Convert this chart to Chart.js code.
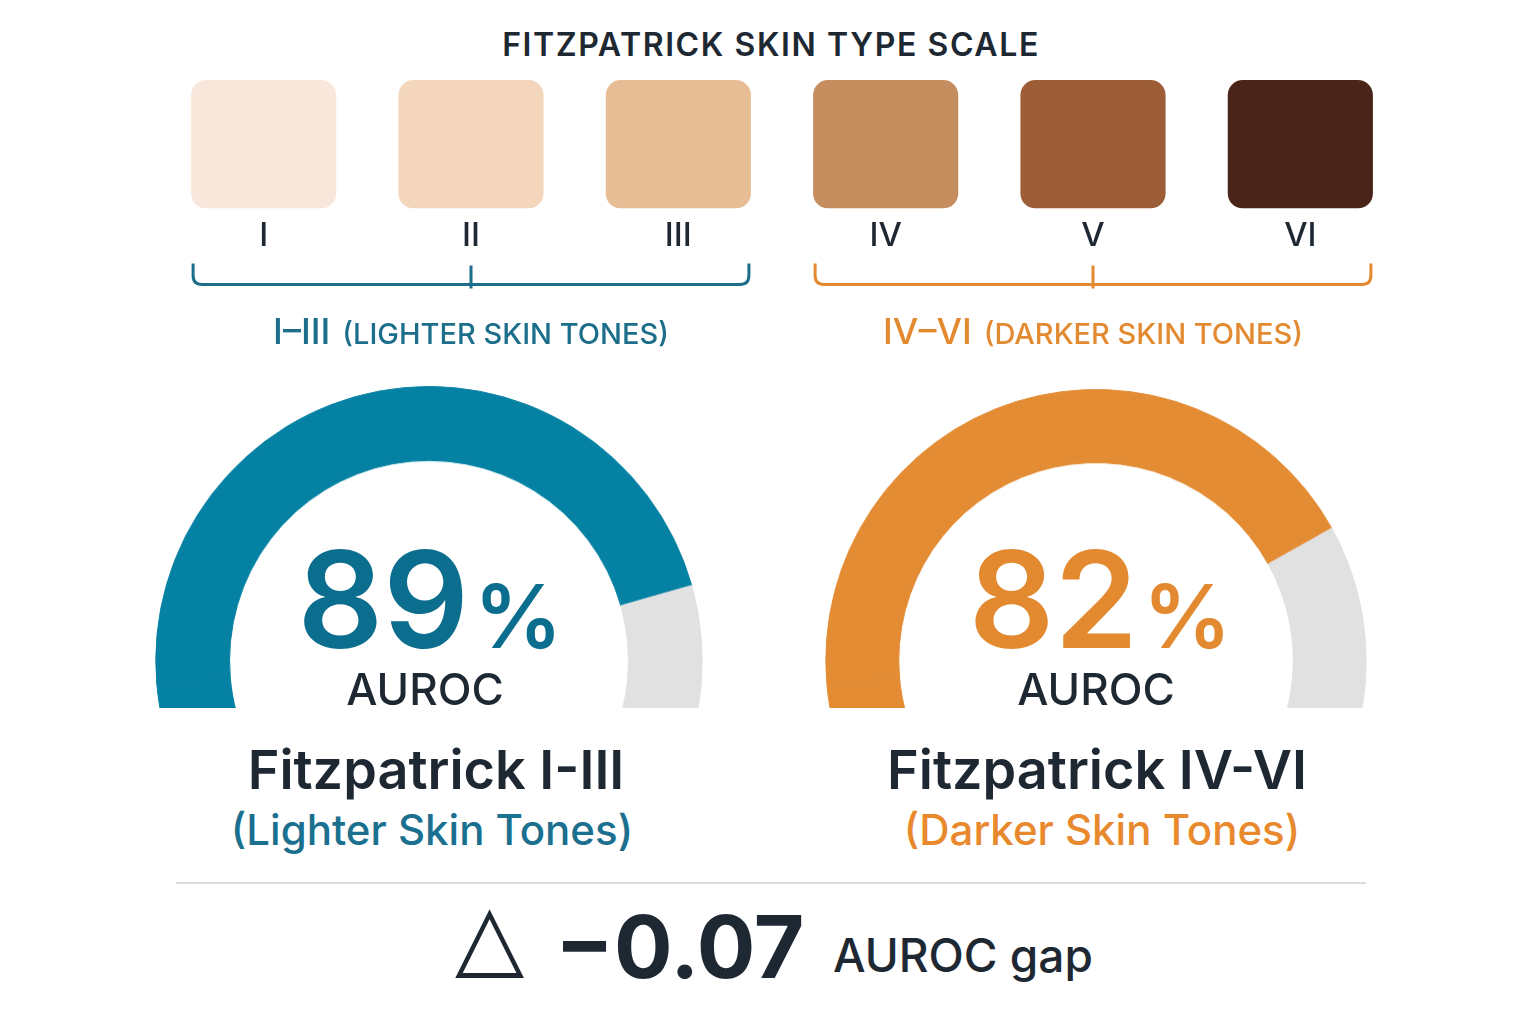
<!DOCTYPE html>
<html>
<head>
<meta charset="utf-8">
<script src="https://cdn.jsdelivr.net/npm/chart.js@4.4.0/dist/chart.umd.min.js"></script>
<style>
  html, body { margin: 0; padding: 0; background: #fff; }
  body { width: 1536px; height: 1024px; position: relative; overflow: hidden; font-family: Inter, "Noto Sans", sans-serif; color: #1e2833; }
  .abs { position: absolute; white-space: nowrap; }
  .center { text-align: center; width: 700px; }
  .gauge { position: absolute; overflow: hidden; }
</style>
</head>
<body>

<div class="abs center" id="title" style="left:421px; top:29px; font-size:32px; font-weight:600; letter-spacing:1.6px; line-height:32px;"></div>

<div class="abs" style="left:160px; top:60px; width:1244px; height:300px;">
  <canvas id="swatches"></canvas>
</div>

<div class="gauge" id="g0"><div class="inner"><canvas id="gauge0"></canvas></div></div>
<div class="gauge" id="g1"><div class="inner"><canvas id="gauge1"></canvas></div></div>

<div id="texts"></div>

<div class="abs" style="left:176px; top:882px; width:1190px; height:2px; background:#dedede;"></div>

<div class="abs" id="delta" style="left:455px; top:891px; font-family:'DejaVu Sans'; font-size:90px; line-height:90px;">△</div>
<div class="abs" id="gap" style="left:555px; top:903px; font-size:87px; font-weight:700; line-height:87px;"></div>
<div class="abs" id="gapLabel" style="left:833px; top:932px; font-size:46px; font-weight:500; line-height:46px;"></div>

<script>
// skin type scale
const skinTypes = ['I', 'II', 'III', 'IV', 'V', 'VI'];
const skinColors = ['#f8e7da', '#f3d6bb', '#e7bd95', '#c68d5f', '#9c5d37', '#4a2418'];
const swatchLevel = [1, 1, 1, 1, 1, 1];

// groups
const groupNames = ['I–III', 'IV–VI'];
const groupNotes = ['(LIGHTER SKIN TONES)', '(DARKER SKIN TONES)'];
const groupMembers = [[0, 2], [3, 5]];
const groupTitles = ['Fitzpatrick I-III', 'Fitzpatrick IV-VI'];
const groupSubtitles = ['(Lighter Skin Tones)', '(Darker Skin Tones)'];
const aurocPct = [89, 82];
const aurocGap = -0.07;

const colArc = ['#0481a3', '#e38c34'];
const colText = ['#0b6e8e', '#e38a31'];
const colSub = ['#1b6f8f', '#e8892e'];
const colBracket = ['#1c6e8a', '#e38a31'];
const trackGray = '#e1e1e1';

document.getElementById('title').textContent = 'FITZPATRICK SKIN TYPE SCALE';

const bracketPlugin = {
  id: 'brackets',
  afterDraw(chart) {
    const ctx = chart.ctx;
    const bars = chart.getDatasetMeta(0).data;
    const base = chart.chartArea.bottom;
    groupMembers.forEach((m, gi) => {
      const a = bars[m[0]], b = bars[m[1]];
      const x0 = a.x - a.width / 2 + 2, x1 = b.x + b.width / 2 - 2;
      const xm = chart.scales.x.getPixelForValue((m[0] + m[1]) / 2);
      const top = base + 55, line = base + 76, rad = 9;
      ctx.save();
      ctx.strokeStyle = colBracket[gi];
      ctx.lineWidth = 3;
      ctx.beginPath();
      ctx.moveTo(x0, top);
      ctx.lineTo(x0, line - rad);
      ctx.quadraticCurveTo(x0, line, x0 + rad, line);
      ctx.lineTo(x1 - rad, line);
      ctx.quadraticCurveTo(x1, line, x1, line - rad);
      ctx.lineTo(x1, top);
      ctx.moveTo(xm, line - 19);
      ctx.lineTo(xm, line + 4);
      ctx.stroke();
      // label
      ctx.fillStyle = colBracket[gi];
      ctx.textBaseline = 'alphabetic';
      ctx.font = '500 36px Inter';
      const w1 = ctx.measureText(groupNames[gi]).width;
      ctx.font = '500 29px Inter';
      const gapW = 12;
      const w2 = ctx.measureText(groupNotes[gi]).width;
      let lx = xm - (w1 + gapW + w2) / 2;
      const by = base + 136;
      ctx.font = '500 36px Inter';
      ctx.fillText(groupNames[gi], lx, by);
      ctx.font = '500 29px Inter';
      ctx.fillText(groupNotes[gi], lx + w1 + gapW, by);
      ctx.restore();
    });
  }
};

new Chart(document.getElementById('swatches'), {
  type: 'bar',
  data: {
    labels: skinTypes,
    datasets: [{
      data: swatchLevel,
      backgroundColor: skinColors,
      borderRadius: 15,
      borderSkipped: false,
      barPercentage: 0.7,
      categoryPercentage: 1
    }]
  },
  options: {
    responsive: true,
    maintainAspectRatio: false,
    animation: false,
    layout: { padding: { top: 20, bottom: 96, left: 0, right: 0 } },
    plugins: { legend: { display: false }, tooltip: { enabled: false } },
    scales: {
      y: { display: false, min: 0, max: 1 },
      x: {
        grid: { display: false, drawTicks: false },
        border: { display: false },
        ticks: { color: '#1e2833', padding: 8, font: { family: 'Inter', size: 33, weight: '500' } }
      }
    }
  },
  plugins: [bracketPlugin]
});

// gauges
const gaugeGeom = [{ cx: 429, cy: 660, r: 274 }, { cx: 1096, cy: 660, r: 271 }];
const cutY = 708;
const arcSpan = 190;      // degrees covered by 0..100
const overhang = 5;       // extra track below the cut line, in value units
gaugeGeom.forEach((g, i) => {
  const totalUnits = 100 + 2 * overhang;
  const circ = arcSpan * totalUnits / 100;
  const extRad = (circ - 180) / 2 * Math.PI / 180;
  const H = g.r * (1 + Math.sin(extRad));
  const wrap = document.getElementById('g' + i);
  wrap.style.left = (g.cx - g.r) + 'px';
  wrap.style.top = (g.cy - g.r) + 'px';
  wrap.style.width = (2 * g.r) + 'px';
  wrap.style.height = (cutY - (g.cy - g.r)) + 'px';
  const inner = wrap.querySelector('.inner');
  inner.style.width = (2 * g.r) + 'px';
  inner.style.height = H + 'px';
  inner.style.position = 'relative';
  const fills = [colArc[i], colArc[i], trackGray, trackGray];
  new Chart(document.getElementById('gauge' + i), {
    type: 'doughnut',
    data: {
      datasets: [{
        data: [overhang, aurocPct[i], 100 - aurocPct[i], overhang],
        backgroundColor: fills,
        borderColor: fills,
        borderWidth: 1,
        hoverBorderWidth: 1,
        hoverOffset: 0,
        offset: 0
      }]
    },
    options: {
      responsive: true,
      maintainAspectRatio: false,
      animation: false,
      cutout: '73%',
      circumference: circ,
      rotation: -circ / 2,
      layout: { padding: 0 },
      plugins: { legend: { display: false }, tooltip: { enabled: false } }
    }
  });
});

// gauge texts
const texts = document.getElementById('texts');
function put(html, cx, top, style) {
  const d = document.createElement('div');
  d.className = 'abs center';
  d.style.left = (cx - 350) + 'px';
  d.style.top = top + 'px';
  d.style.cssText += style;
  d.innerHTML = html;
  texts.appendChild(d);
}
const numX = [430, 1100], aurX = [425, 1096], titX = [436, 1097], subX = [432, 1102];
aurocPct.forEach((v, i) => {
  put('<span style="font-size:134px">' + v + '</span><span style="font-size:88px; margin-left:5px">%</span>',
      numX[i], 532, 'font-weight:600; line-height:134px; color:' + colText[i] + ';');
  put('AUROC', aurX[i], 667, 'font-size:44px; font-weight:500; line-height:44px;');
  put(groupTitles[i], titX[i], 743, 'font-size:54px; font-weight:600; line-height:54px;');
  put(groupSubtitles[i], subX[i], 809, 'font-size:42px; font-weight:500; line-height:42px; color:' + colSub[i] + ';');
});

document.getElementById('gap').textContent = '−' + Math.abs(aurocGap).toFixed(2);
document.getElementById('gapLabel').textContent = 'AUROC gap';
</script>
</body>
</html>
